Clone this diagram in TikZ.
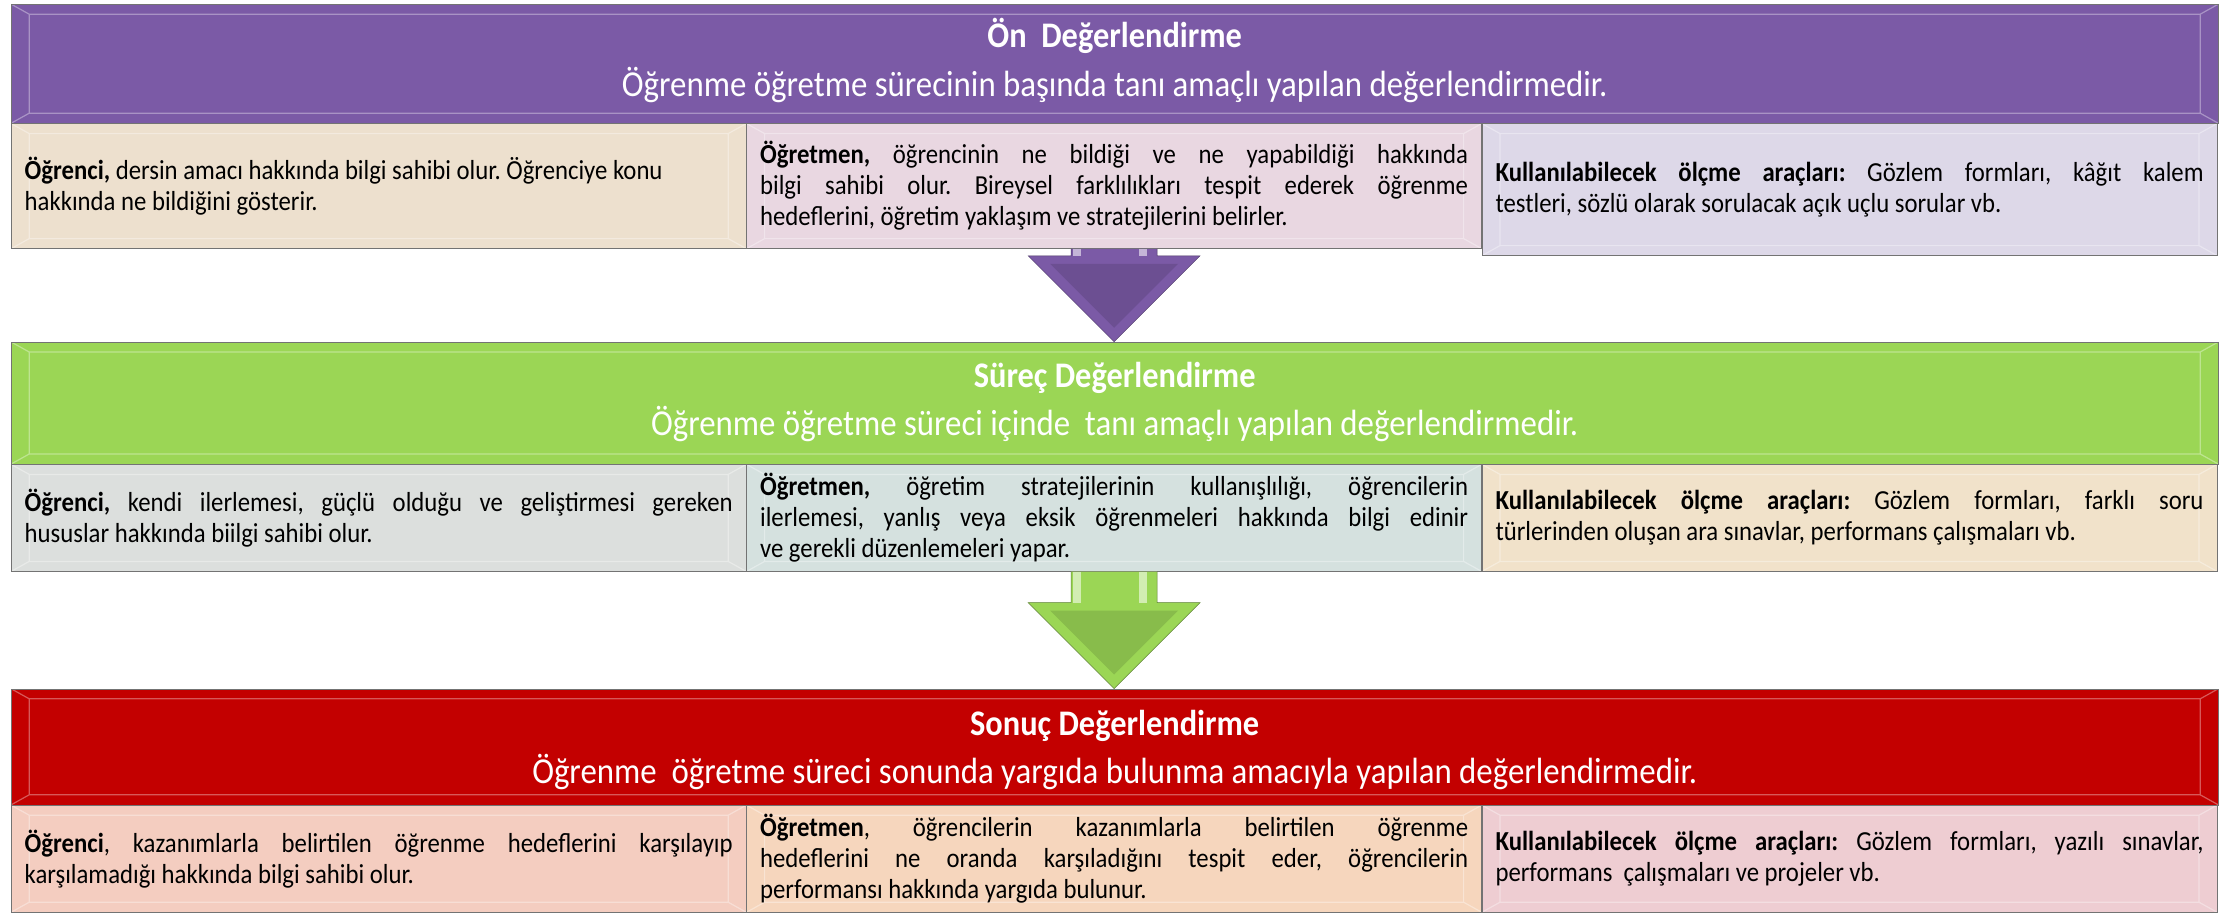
\documentclass[tikz,border=0pt]{standalone}
\usepackage{fontspec}
\setmainfont{Carlito}[FakeStretch=0.9]
\usetikzlibrary{positioning,calc}
\frenchspacing

\definecolor{mor}{HTML}{7B5AA6}
\definecolor{yesil}{HTML}{9BD655}
\definecolor{kirmizi}{HTML}{C30000}
\definecolor{bej}{HTML}{EDE0CE}
\definecolor{pembe}{HTML}{E9D7E1}
\definecolor{lila}{HTML}{DDD8E8}
\definecolor{gri}{HTML}{DCDFDD}
\definecolor{mavigri}{HTML}{D5E1DF}
\definecolor{krem}{HTML}{F1E2CA}
\definecolor{somon}{HTML}{F4CDC0}
\definecolor{seftali}{HTML}{F6D6BD}
\definecolor{gul}{HTML}{EECDD2}

\tikzset{
  bevel/.style={path picture={
      \coordinate (bnw) at (path picture bounding box.north west);
      \coordinate (bse) at (path picture bounding box.south east);
      \coordinate (bne) at (path picture bounding box.north east);
      \coordinate (bsw) at (path picture bounding box.south west);
      \draw[white, opacity=0.35, line width=1.2pt]
        ([xshift=18pt,yshift=-10pt]bnw) rectangle ([xshift=-18pt,yshift=10pt]bse)
        (bnw) -- ([xshift=18pt,yshift=-10pt]bnw)
        (bne) -- ([xshift=-18pt,yshift=-10pt]bne)
        (bsw) -- ([xshift=18pt,yshift=10pt]bsw)
        (bse) -- ([xshift=-18pt,yshift=10pt]bse);}},
  baslik/.style={draw=black!55, minimum width=2207pt, minimum height=119pt,
      inner sep=0pt, bevel},
  ustyazi/.style={text=white, inner sep=0pt, anchor=base,
      font=\fontsize{36}{40}\selectfont\bfseries},
  altyazi/.style={text=white, inner sep=0pt, anchor=base,
      font=\fontsize{36.5}{42}\selectfont},
  kutu/.style={draw=black!55, text=black, text width=708pt, inner xsep=13.5pt, inner ysep=0pt,
      minimum height=107pt, align=justify, bevel,
      font=\fontsize{27.5}{31}\selectfont},
}

% arrow from a box down to the next header
\newcommand{\asagiok}[3]{%
  \fill[#3] let \p1=(#1.south), \p2=(#2.north) in
    (\x1-43pt,\y1) -- (\x1-43pt,\y2+86pt) -- (\x1-86pt,\y2+86pt) -- (\x1,\y2)
    -- (\x1+86pt,\y2+86pt) -- (\x1+43pt,\y2+86pt) -- (\x1+43pt,\y1) -- cycle;
  \fill[#3!88!black] let \p1=(#1.south), \p2=(#2.north) in
    (\x1-64pt,\y2+78pt) -- (\x1,\y2+14pt) -- (\x1+64pt,\y2+78pt) -- cycle;
  \fill[#3!45!white] let \p1=(#1.south), \p2=(#2.north) in
    (\x1-41pt,\y1) rectangle (\x1-33pt,\y2+86pt);
  \fill[#3!45!white] let \p1=(#1.south), \p2=(#2.north) in
    (\x1+25pt,\y1) rectangle (\x1+33pt,\y2+86pt);
  \draw[#3!60!black] let \p1=(#1.south), \p2=(#2.north) in
    (\x1-43pt,\y1) -- (\x1-43pt,\y2+86pt) -- (\x1-86pt,\y2+86pt) -- (\x1,\y2)
    -- (\x1+86pt,\y2+86pt) -- (\x1+43pt,\y2+86pt) -- (\x1+43pt,\y1);
}

\begin{document}
\begin{tikzpicture}[x=1pt, y=-1pt]
\useasboundingbox[fill=white] (0,0) rectangle (2227,913);

% Ön Değerlendirme
\node[baslik, fill=mor, anchor=north west] (h1) at (11,4) {};
\node[ustyazi] (h1t) at ([yshift=-43pt]h1.north) {Ön\ \ Değerlendirme};
\node[altyazi] (h1a) at ([yshift=-92pt]h1.north) {Öğrenme öğretme sürecinin başında tanı amaçlı yapılan değerlendirmedir.};
\node[kutu, fill=bej, minimum height=125pt, below right=0pt and 0pt of h1.south west] (a1)
  {\textbf{Öğrenci,} dersin amacı hakkında bilgi sahibi olur. Öğrenciye konu\\hakkında ne bildiğini gösterir.};
\node[kutu, fill=pembe, minimum height=125pt, right=0pt of a1] (b1)
  {\textbf{Öğretmen,} öğrencinin ne bildiği ve ne yapabildiği hakkında\linebreak bilgi sahibi olur. Bireysel farklılıkları tespit ederek öğrenme\linebreak hedeflerini, öğretim yaklaşım ve stratejilerini belirler.};
\node[kutu, fill=lila, minimum height=132pt, below right=0pt and 0pt of b1.north east] (c1)
  {\textbf{Kullanılabilecek ölçme araçları:} Gözlem formları, kâğıt kalem\linebreak testleri, sözlü olarak sorulacak açık uçlu sorular vb.};

% Süreç Değerlendirme
\node[baslik, fill=yesil, minimum height=122pt, below right=93pt and 0pt of a1.south west] (h2) {};
\node[ustyazi] (h2t) at ([yshift=-46pt]h2.north) {Süreç Değerlendirme};
\node[altyazi] (h2a) at ([yshift=-94pt]h2.north) {Öğrenme öğretme süreci içinde\ \ tanı amaçlı yapılan değerlendirmedir.};
\node[kutu, fill=gri, below right=0pt and 0pt of h2.south west] (a2)
  {\textbf{Öğrenci,} kendi ilerlemesi, güçlü olduğu ve geliştirmesi gereken\linebreak hususlar hakkında biilgi sahibi olur.};
\node[kutu, fill=mavigri, right=0pt of a2] (b2)
  {\textbf{Öğretmen,} öğretim stratejilerinin kullanışlılığı, öğrencilerin\linebreak ilerlemesi, yanlış veya eksik öğrenmeleri hakkında bilgi edinir\linebreak ve gerekli düzenlemeleri yapar.};
\node[kutu, fill=krem, right=0pt of b2] (c2)
  {\textbf{Kullanılabilecek ölçme araçları:} Gözlem formları, farklı soru\linebreak türlerinden oluşan ara sınavlar, performans çalışmaları vb.};

% Sonuç Değerlendirme
\node[baslik, fill=kirmizi, minimum height=116pt, below right=117pt and 0pt of a2.south west] (h3) {};
\node[ustyazi] (h3t) at ([yshift=-47pt]h3.north) {Sonuç Değerlendirme};
\node[altyazi] (h3a) at ([yshift=-95pt]h3.north) {Öğrenme\ \ öğretme süreci sonunda yargıda bulunma amacıyla yapılan değerlendirmedir.};
\node[kutu, fill=somon, below right=0pt and 0pt of h3.south west] (a3)
  {\textbf{Öğrenci}, kazanımlarla belirtilen öğrenme hedeflerini karşılayıp\linebreak karşılamadığı hakkında bilgi sahibi olur.};
\node[kutu, fill=seftali, right=0pt of a3] (b3)
  {\textbf{Öğretmen}, öğrencilerin kazanımlarla belirtilen öğrenme\linebreak hedeflerini ne oranda karşıladığını tespit eder, öğrencilerin\linebreak performansı hakkında yargıda bulunur.};
\node[kutu, fill=gul, right=0pt of b3] (c3)
  {\textbf{Kullanılabilecek ölçme araçları:} Gözlem formları, yazılı sınavlar,\linebreak performans\ \ çalışmaları ve projeler vb.};

% arrows
\asagiok{b1}{h2}{mor}
\asagiok{b2}{h3}{yesil}
\end{tikzpicture}
\end{document}
